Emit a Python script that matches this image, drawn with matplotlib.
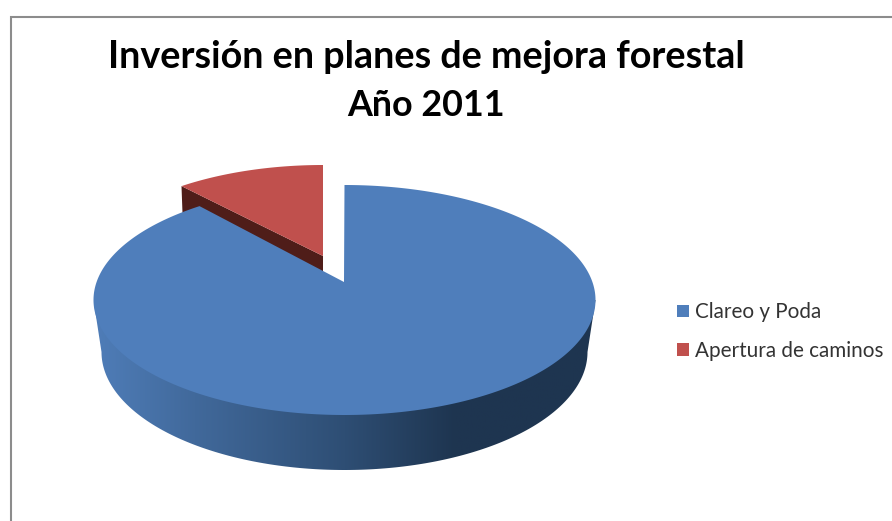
import numpy as np
import matplotlib.pyplot as plt
from matplotlib.colors import LinearSegmentedColormap
from matplotlib.patches import Polygon

categories = ['Clareo y Poda', 'Apertura de caminos']
shares = [90.2, 9.8]
title_lines = ['Inversión en planes de mejora forestal', 'Año 2011']

plt.rcParams['font.family'] = ['Lato', 'DejaVu Sans']

BLUE = '#4f7ebb'
RED = '#c0504d'
CX, CY, RX, RY = 344.5, 300, 251, 115
BOT_CY, BOT_RX, BOT_RY = 352, 243, 118


def arc(cx, cy, rx, ry, start, end, n=200):
    # angles in degrees, clockwise from the top
    t = np.radians(np.linspace(start, end, n))
    return np.column_stack([cx + rx * np.sin(t), cy - ry * np.cos(t)])


fig = plt.figure(figsize=(8.92, 5.21), dpi=100)
ax = fig.add_axes([0, 0, 1, 1])

# chart frame
ax.plot([10.5, 10.5, 892], [521, 16.5, 16.5], color='#8c8c8c', lw=1.5, solid_joinstyle='miter')

blue_sweep = 360 * shares[0] / sum(shares)

# exploded slice, wall first so the blue top covers its foot
red_arc = arc(323, 280, 245, RY, blue_sweep, 360)
red_apex = np.array([323, 256])
wall = np.array([red_arc[0], red_arc[0] + [1, 27], red_apex + [0, 16], red_apex])
ax.add_patch(Polygon(wall, closed=True, fc='#4f1d19', ec='none', zorder=2))
ax.add_patch(Polygon(np.vstack([red_apex, red_arc]), closed=True, fc=RED, ec='none', zorder=3,
                     label=categories[1]))

# side wall of the big slice with the left to right shading
side = np.vstack([[CX - RX, CY], [CX + RX, CY], arc(CX, BOT_CY, BOT_RX, BOT_RY, 90, 270)])
side_patch = Polygon(side, closed=True, fc='none', ec='none', transform=ax.transData)
ax.add_patch(side_patch)
cmap = LinearSegmentedColormap.from_list('side', [(0, '#4f7db8'), (0.2, '#41699b'), (0.5, '#2e4e74'),
                                                  (0.72, '#1e3550'), (1, '#1f3550')])
im = ax.imshow(np.linspace(0, 1, 256)[None, :], cmap=cmap, aspect='auto',
               extent=(CX - RX, CX + RX, 475, 295), zorder=4)
im.set_clip_path(side_patch)

# top of the big slice
ax.add_patch(Polygon(np.vstack([[CX - 0.5, 282], arc(CX, CY, RX, RY, 0, blue_sweep, 600)]),
                     closed=True, fc=BLUE, ec='none', zorder=5, label=categories[0]))

ax.text(426, 57, title_lines[0], fontsize=27.2, fontweight='bold', color='black', ha='center', va='center')
ax.text(426, 105, title_lines[1], fontsize=25.8, fontweight='bold', color='black', ha='center', va='center')

handles, labels = ax.get_legend_handles_labels()
order = [labels.index(c) for c in categories]
ax.legend([handles[i] for i in order], [labels[i] for i in order], loc='upper left',
          bbox_to_anchor=(671 / 892, 1 - 296 / 521), frameon=False, fontsize=14.9,
          handlelength=0.55, handleheight=0.55, handletextpad=0.3, labelspacing=0.9,
          borderaxespad=0, borderpad=0.3, labelcolor='#333333')

ax.set_xlim(0, 892)
ax.set_ylim(521, 0)
ax.axis('off')
fig.savefig('out.png', dpi=100)
